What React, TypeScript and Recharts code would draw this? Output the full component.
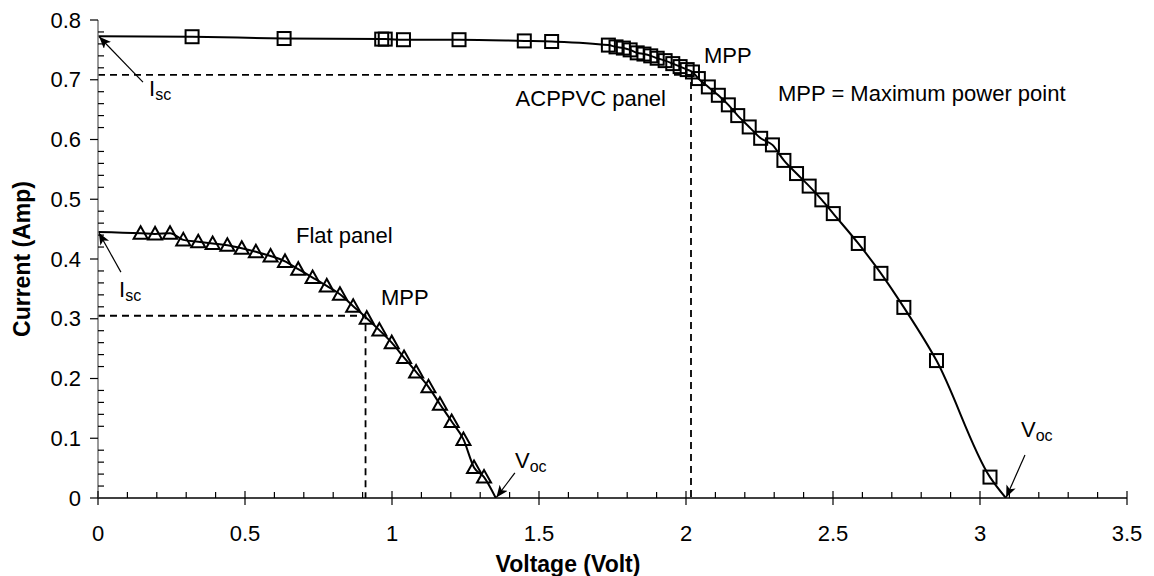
import React from 'react';
import { ComposedChart, Line, XAxis, YAxis } from 'recharts';

// ACPPVC panel (squares)
const acVoltage = [0.32, 0.633, 0.965, 0.977, 1.039, 1.228, 1.45, 1.543, 1.736, 1.762, 1.787, 1.81, 1.834, 1.857, 1.88, 1.902, 1.929, 1.955, 1.98, 2.004, 2.022, 2.042, 2.076, 2.11, 2.144, 2.176, 2.215, 2.254, 2.294, 2.333, 2.376, 2.419, 2.462, 2.501, 2.586, 2.663, 2.741, 2.852, 3.034];
const acCurrent = [0.772, 0.769, 0.768, 0.768, 0.767, 0.767, 0.765, 0.764, 0.758, 0.755, 0.753, 0.75, 0.745, 0.743, 0.74, 0.736, 0.732, 0.727, 0.722, 0.717, 0.713, 0.702, 0.688, 0.674, 0.658, 0.64, 0.621, 0.602, 0.591, 0.565, 0.543, 0.522, 0.499, 0.476, 0.426, 0.376, 0.319, 0.23, 0.035];
const acIsc = 0.773;
const acVoc = 3.088;
const acMppV = 2.017;
const acMppI = 0.708;

// Flat panel (triangles)
const flatVoltage = [0.145, 0.194, 0.245, 0.29, 0.341, 0.39, 0.44, 0.489, 0.537, 0.587, 0.636, 0.681, 0.73, 0.778, 0.823, 0.868, 0.914, 0.957, 0.999, 1.041, 1.082, 1.124, 1.163, 1.203, 1.243, 1.279, 1.313];
const flatCurrent = [0.443, 0.442, 0.443, 0.432, 0.429, 0.426, 0.423, 0.418, 0.412, 0.405, 0.396, 0.383, 0.369, 0.355, 0.341, 0.321, 0.301, 0.281, 0.26, 0.235, 0.211, 0.186, 0.157, 0.128, 0.098, 0.051, 0.035];
const flatIsc = 0.445;
const flatVoc = 1.353;
const flatMppV = 0.91;
const flatMppI = 0.305;

// Axis ticks
const xMajorTicks = [0, 0.5, 1, 1.5, 2, 2.5, 3, 3.5];
const yMajorTicks = [0, 0.1, 0.2, 0.3, 0.4, 0.5, 0.6, 0.7, 0.8];
const xMinorStep = 0.1;
const yMinorStep = 0.02;

// Annotation arrows [from, to] in data units
const acIscArrow = [{ v: 0.153, i: 0.696 }, { v: 0.004, i: 0.772 }];
const flatIscArrow = [{ v: 0.078, i: 0.378 }, { v: 0.003, i: 0.444 }];
const flatVocArrow = [{ v: 1.418, i: 0.042 }, { v: 1.355, i: 0.001 }];
const acVocArrow = [{ v: 3.153, i: 0.072 }, { v: 3.089, i: 0.001 }];

const FONT = '"Liberation Sans", Arial, sans-serif';

const buildCurve = (vs: number[], is: number[], isc: number, voc: number) => [
  { v: 0, i: isc, m: false },
  ...vs.map((v, k) => ({ v, i: is[k], m: true })),
  { v: voc, i: 0, m: false },
];

const acData = buildCurve(acVoltage, acCurrent, acIsc, acVoc);
const flatData = buildCurve(flatVoltage, flatCurrent, flatIsc, flatVoc);
const acMppData = [{ v: 0, i: acMppI }, { v: acMppV, i: acMppI }, { v: acMppV, i: 0 }];
const flatMppData = [{ v: 0, i: flatMppI }, { v: flatMppV, i: flatMppI }, { v: flatMppV, i: 0 }];

const xMax = xMajorTicks[xMajorTicks.length - 1];
const yMax = yMajorTicks[yMajorTicks.length - 1];
const xTicks = Array.from({ length: Math.round(xMax / xMinorStep) + 1 }, (_, k) => Math.round(k * xMinorStep * 100) / 100);
const yTicks = Array.from({ length: Math.round(yMax / yMinorStep) + 1 }, (_, k) => Math.round(k * yMinorStep * 100) / 100);

const isMajor = (v: number, majors: number[]) => majors.some((m) => Math.abs(m - v) < 1e-6);

const XTick = (props: any) => {
  const { x, y, payload } = props;
  const v = payload.value;
  const major = isMajor(v, xMajorTicks);
  return (
    <g>
      <line x1={x} x2={x} y1={major ? y - 7 : y - 6} y2={major ? y + 7 : y} stroke="#000" strokeWidth={1.2} />
      {major && (
        <text x={x} y={y + 43} textAnchor="middle" fontSize={22} fontFamily={FONT} fill="#000">
          {String(v)}
        </text>
      )}
    </g>
  );
};

const YTick = (props: any) => {
  const { x, y, payload } = props;
  const v = payload.value;
  const major = isMajor(v, yMajorTicks);
  return (
    <g>
      <line x1={major ? x - 8 : x} x2={major ? x : x + 6} y1={y} y2={y} stroke="#000" strokeWidth={1.2} />
      {major && (
        <text x={x - 17} y={y + 7.5} textAnchor="end" fontSize={22} fontFamily={FONT} fill="#000">
          {String(v)}
        </text>
      )}
    </g>
  );
};

const SquareDot = (props: any) => {
  const { cx, cy, payload, index } = props;
  if (!payload || !payload.m || cx == null || cy == null) return <g key={`s${index}`} />;
  return <rect key={`s${index}`} x={cx - 6.5} y={cy - 6.5} width={13} height={13} fill="none" stroke="#000" strokeWidth={2} />;
};

const TriangleDot = (props: any) => {
  const { cx, cy, payload, index } = props;
  if (!payload || !payload.m || cx == null || cy == null) return <g key={`t${index}`} />;
  return (
    <polygon
      key={`t${index}`}
      points={`${cx},${cy - 7} ${cx - 7},${cy + 5.5} ${cx + 7},${cy + 5.5}`}
      fill="none"
      stroke="#000"
      strokeWidth={2}
      strokeLinejoin="miter"
    />
  );
};

const Sub = ({ x, y, main, sub }: { x: number; y: number; main: string; sub: string }) => (
  <text x={x} y={y} fontSize={22} fontFamily={FONT} fill="#000">
    {main}
    <tspan fontSize={16} dy={4}>{sub}</tspan>
  </text>
);

export default function App() {
  return (
    <div style={{ position: 'absolute', left: 0, top: 0, width: 1154, height: 576, background: '#fff' }}>
      <svg width={0} height={0} style={{ position: 'absolute' }}>
        <defs>
          <marker id="arrowHead" markerUnits="userSpaceOnUse" markerWidth={14} markerHeight={12} refX={12} refY={5} orient="auto">
            <path d="M0,0 L12,5 L0,10 L3,5 z" fill="#000" />
          </marker>
        </defs>
      </svg>
      <ComposedChart width={1154} height={576} margin={{ top: 20, right: 27, bottom: 28, left: 0 }}>
        <XAxis
          type="number"
          dataKey="v"
          domain={[0, xMax]}
          ticks={xTicks}
          interval={0}
          tick={<XTick />}
          tickLine={false}
          tickSize={0}
          tickMargin={0}
          height={50}
          axisLine={{ stroke: '#000', strokeWidth: 1.3 }}
          allowDataOverflow
        />
        <YAxis
          type="number"
          dataKey="i"
          domain={[0, yMax]}
          ticks={yTicks}
          interval={0}
          tick={<YTick />}
          tickLine={false}
          tickSize={0}
          tickMargin={0}
          width={98}
          axisLine={{ stroke: '#777', strokeWidth: 1.5 }}
          allowDataOverflow
        />
        <Line data={acMppData} dataKey="i" type="linear" stroke="#000" strokeWidth={1.8} strokeDasharray="7 5" dot={false} isAnimationActive={false} />
        <Line data={flatMppData} dataKey="i" type="linear" stroke="#000" strokeWidth={1.8} strokeDasharray="7 5" dot={false} isAnimationActive={false} />
        <Line data={acData} dataKey="i" type="monotone" stroke="#000" strokeWidth={2} dot={SquareDot} isAnimationActive={false} />
        <Line data={flatData} dataKey="i" type="monotone" stroke="#000" strokeWidth={2} dot={TriangleDot} isAnimationActive={false} />
        <Line data={acIscArrow} dataKey="i" type="linear" stroke="#000" strokeWidth={1.2} dot={false} markerEnd="url(#arrowHead)" isAnimationActive={false} />
        <Line data={flatIscArrow} dataKey="i" type="linear" stroke="#000" strokeWidth={1.2} dot={false} markerEnd="url(#arrowHead)" isAnimationActive={false} />
        <Line data={flatVocArrow} dataKey="i" type="linear" stroke="#000" strokeWidth={1.2} dot={false} markerEnd="url(#arrowHead)" isAnimationActive={false} />
        <Line data={acVocArrow} dataKey="i" type="linear" stroke="#000" strokeWidth={1.2} dot={false} markerEnd="url(#arrowHead)" isAnimationActive={false} />
      </ComposedChart>
      <svg width={1154} height={576} style={{ position: 'absolute', left: 0, top: 0, pointerEvents: 'none' }}>
        <text x={568} y={572} textAnchor="middle" fontSize={23} fontWeight="bold" fontFamily={FONT} fill="#000">
          Voltage (Volt)
        </text>
        <text
          x={0}
          y={0}
          transform="translate(30,259) rotate(-90)"
          textAnchor="middle"
          fontSize={23}
          fontWeight="bold"
          fontFamily={FONT}
          fill="#000"
        >
          Current (Amp)
        </text>
        <Sub x={149} y={96} main="I" sub="sc" />
        <Sub x={119} y={297} main="I" sub="sc" />
        <Sub x={515} y={468} main="V" sub="oc" />
        <Sub x={1021} y={437} main="V" sub="oc" />
        <text x={704} y={63} fontSize={22} fontFamily={FONT} fill="#000">MPP</text>
        <text x={381} y={305} fontSize={22} fontFamily={FONT} fill="#000">MPP</text>
        <text x={666} y={106} textAnchor="end" fontSize={22} fontFamily={FONT} fill="#000">ACPPVC panel</text>
        <text x={778} y={101} fontSize={22} fontFamily={FONT} fill="#000">MPP = Maximum power point</text>
        <text x={296} y={243} fontSize={22} fontFamily={FONT} fill="#000">Flat panel</text>
      </svg>
    </div>
  );
}
